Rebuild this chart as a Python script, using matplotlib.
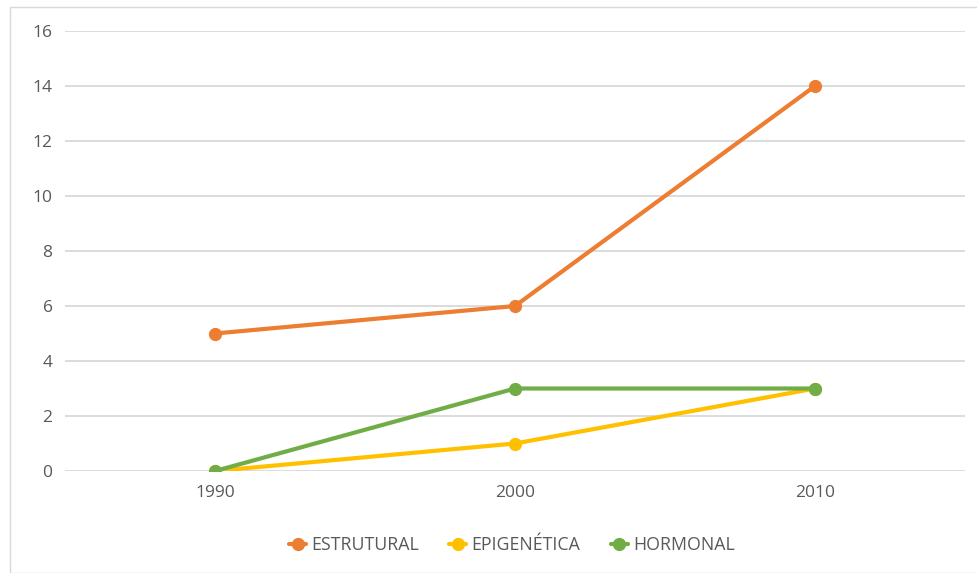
"""Line chart: count per decade for three categories (Excel-like styling)."""

import matplotlib.pyplot as plt
from matplotlib.patches import Rectangle

plt.rcParams["font.family"] = ["Open Sans", "DejaVu Sans"]

YEARS = ["1990", "2000", "2010"]
ESTRUTURAL = [5, 6, 14]
EPIGENETICA = [0, 1, 3]
HORMONAL = [0, 3, 3]

SERIES = [
    ("ESTRUTURAL", ESTRUTURAL, "#ED7D31"),
    ("EPIGENÉTICA", EPIGENETICA, "#FFC000"),
    ("HORMONAL", HORMONAL, "#70AD47"),
]

W, H = 977, 573
fig = plt.figure(figsize=(W / 100, H / 100), dpi=100)
fig.patch.set_facecolor("white")

# light chart-area border
fig.patches.append(Rectangle((10 / W, 0), 1.0, 1 - 7 / H, transform=fig.transFigure,
                             fill=False, edgecolor="#D9D9D9", linewidth=1.0))

ax = fig.add_axes([65 / W, 1 - 471 / H, 900 / W, 440 / H])
x = list(range(len(YEARS)))
for name, vals, color in SERIES:
    ax.plot(x, vals, color=color, linewidth=3, marker="o", markersize=8.5,
            label=name, solid_capstyle="round", zorder=3)

ax.set_xlim(-0.5, len(YEARS) - 0.5)
ax.set_ylim(0, 16)
ax.set_yticks(range(0, 17, 2))
ax.set_xticks(x)
ax.set_xticklabels(YEARS)
ax.yaxis.grid(True, color="#D9D9D9", linewidth=1.3)
ax.set_axisbelow(True)
for s in ax.spines.values():
    s.set_visible(False)
ax.tick_params(length=0, labelsize=12.5, labelcolor="#595959")
ax.tick_params(axis="y", pad=9)
ax.tick_params(axis="x", pad=10)

leg = fig.legend(loc="center", bbox_to_anchor=(512 / W, 1 - 545 / H), ncol=3,
                 frameon=False, fontsize=12.8, handlelength=0.95, columnspacing=1.7,
                 handletextpad=0.3)
for t in leg.get_texts():
    t.set_color("#595959")

fig.savefig("out.png", dpi=100)
